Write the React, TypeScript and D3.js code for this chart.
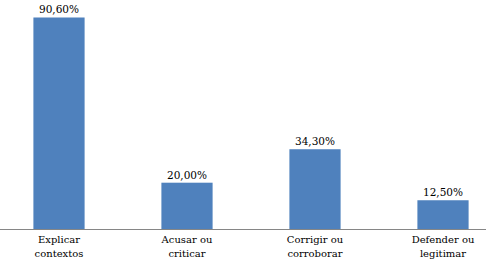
import { useEffect, useRef } from "react";
import * as d3 from "d3";

const categories = [
  ["Explicar", "contextos"],
  ["Acusar ou", "criticar"],
  ["Corrigir ou", "corroborar"],
  ["Defender ou", "legitimar"],
];
const values = [90.6, 20.0, 34.3, 12.5];
const valueLabels = ["90,60%", "20,00%", "34,30%", "12,50%"];

const W = 486;
const H = 261;

export default function App() {
  const svgRef = useRef<SVGSVGElement>(null);

  useEffect(() => {
    const el = svgRef.current;
    if (!el) return;
    const svg = d3.select(el);
    svg.selectAll("*").remove();

    const baseY = 229.5;
    const keys = categories.map((_, i) => String(i));
    const x = d3
      .scaleBand<string>()
      .domain(keys)
      .range([-5, 507])
      .paddingInner(0.6)
      .paddingOuter(0.3);
    const y = d3.scaleLinear().domain([0, 100]).range([baseY, -4.5]);

    const font = "DejaVu Serif";

    // bars
    svg
      .selectAll(".bar")
      .data(values)
      .enter()
      .append("rect")
      .attr("x", (_, i) => x(String(i))!)
      .attr("y", (d) => y(d))
      .attr("width", x.bandwidth())
      .attr("height", (d) => baseY - y(d))
      .attr("fill", "#4F81BD");

    // value labels
    svg
      .selectAll(".val")
      .data(values)
      .enter()
      .append("text")
      .attr("x", (_, i) => x(String(i))! + x.bandwidth() / 2)
      .attr("y", (d) => y(d) - 4)
      .attr("text-anchor", "middle")
      .attr("fill", "#000")
      .attr("font-size", 10.5)
      .attr("font-family", font)
      .text((_, i) => valueLabels[i]);

    // axis line
    svg
      .append("line")
      .attr("x1", 0)
      .attr("x2", W)
      .attr("y1", baseY)
      .attr("y2", baseY)
      .attr("stroke", "#868686")
      .attr("stroke-width", 1);

    // category labels
    const cat = svg
      .selectAll(".cat")
      .data(categories)
      .enter()
      .append("text")
      .attr("text-anchor", "middle")
      .attr("fill", "#000")
      .attr("font-size", 10)
      .attr("font-family", font);
    cat
      .selectAll("tspan")
      .data((d, i) => d.map((t) => ({ t, i })))
      .enter()
      .append("tspan")
      .attr("x", (d) => x(String(d.i))! + x.bandwidth() / 2)
      .attr("y", (_, j) => 243 + j * 13.5)
      .text((d) => d.t);
  }, []);

  return (
    <svg
      ref={svgRef}
      width={W}
      height={H}
      style={{ position: "absolute", left: 0, top: 0, background: "#fff" }}
    />
  );
}
